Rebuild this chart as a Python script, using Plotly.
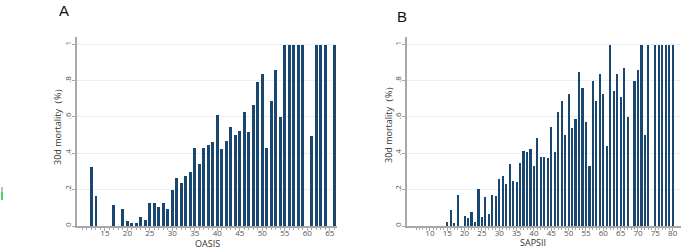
import plotly.graph_objects as go

# Panel A: OASIS score vs 30d mortality
oasis_x = [12, 13, 17, 19, 20, 21, 22, 23, 24, 25, 26, 27, 28, 29, 30, 31, 32, 33, 34, 35,
           36, 37, 38, 39, 40, 41, 42, 43, 44, 45, 46, 47, 48, 49, 50, 51, 52, 53, 54, 55,
           56, 57, 58, 59, 61, 62, 63, 64, 66]
oasis_y = [0.33, 0.167, 0.12, 0.094, 0.033, 0.02, 0.02, 0.055, 0.035, 0.13, 0.127, 0.108, 0.128, 0.094,
           0.2, 0.266, 0.239, 0.277, 0.298, 0.43, 0.344, 0.434, 0.45, 0.463, 0.614, 0.427, 0.469,
           0.545, 0.501, 0.527, 0.629, 0.52, 0.667, 0.793, 0.838, 0.43, 0.689, 0.86, 0.6, 1, 1, 1, 1, 1,
           0.5, 1, 1, 1, 1]

# Panel B: SAPSII score vs 30d mortality
saps_x = [15, 16, 17, 18, 20, 21, 22, 23, 24, 25, 26, 27, 28, 29, 30, 31, 32, 33, 34, 35,
          36, 37, 38, 39, 40, 41, 42, 43, 44, 45, 46, 47, 48, 49, 50, 51, 52, 53, 54, 55,
          56, 57, 58, 59, 60, 61, 62, 63, 64, 65, 66, 67, 69, 70, 71, 72, 73, 75, 76, 77,
          78, 79, 80]
saps_y = [0.024, 0.092, 0.018, 0.175, 0.057, 0.046, 0.081, 0.024, 0.206, 0.05, 0.165, 0.068, 0.176,
          0.169, 0.261, 0.28, 0.233, 0.346, 0.25, 0.246, 0.351, 0.417, 0.408, 0.425, 0.335, 0.487,
          0.38, 0.38, 0.377, 0.55, 0.412, 0.629, 0.689, 0.502, 0.73, 0.54, 0.59, 0.849, 0.763,
          0.574, 0.335, 0.801, 0.693, 0.838, 0.73, 0.445, 1, 0.745, 0.837, 0.715, 0.875, 0.6,
          0.801, 0.859, 1, 0.502, 1, 1, 1, 1, 1, 1, 1]

y_tickvals = [0, 0.2, 0.4, 0.6, 0.8, 1]
y_ticktext = ["0", ".2", ".4", ".6", ".8", "1"]
oasis_ticks = [15, 20, 25, 30, 35, 40, 45, 50, 55, 60, 65]
saps_ticks = [10, 15, 20, 25, 30, 35, 40, 45, 50, 55, 60, 65, 70, 75, 80]

W, H = 685, 249
BAR = "#1a476f"
AX = "#a8a8a8"
TXT = "#555555"


def px(x):
    return x / W


def py(y):
    return (H - y) / H


fig = go.Figure()
fig.add_trace(go.Bar(x=oasis_x, y=oasis_y, width=0.62, marker=dict(color=BAR, line=dict(width=0)),
                     xaxis="x", yaxis="y", showlegend=False))
fig.add_trace(go.Bar(x=saps_x, y=saps_y, width=0.62, marker=dict(color=BAR, line=dict(width=0)),
                     xaxis="x2", yaxis="y2", showlegend=False))

ydom = [py(226), py(36.5)]


def xax(dom, rng, ticks, minor_vals, anchor):
    return dict(domain=dom, range=rng, anchor=anchor, tickvals=ticks, ticktext=[str(t) for t in ticks],
                ticks="outside", ticklen=3, tickcolor=AX, tickwidth=1, ticklabelstandoff=-4,
                showline=True, linecolor=AX, linewidth=1.5, showgrid=False, zeroline=False,
                tickfont=dict(family="Open Sans", size=8, color=TXT),
                minor=dict(tickvals=minor_vals, ticks="outside", ticklen=2.5, tickcolor=AX, showgrid=False))


def yax(anchor):
    return dict(domain=ydom, range=[0, 1.043], anchor=anchor, tickvals=y_tickvals, ticktext=y_ticktext,
                tickangle=-90, ticks="outside", ticklen=3, tickcolor=AX, tickwidth=1, ticklabelstandoff=-2,
                showline=True, linecolor=AX, linewidth=1.5, showgrid=True, gridcolor="#e9eff3",
                gridwidth=1, zeroline=False,
                tickfont=dict(family="Open Sans", size=8, color=TXT))


def ann(text, x, y, size, color="#333333", family="Open Sans", angle=0):
    return dict(text=text, x=px(x), y=py(y), xref="paper", yref="paper", showarrow=False,
                textangle=angle, font=dict(family=family, size=size, color=color),
                xanchor="center", yanchor="middle")


fig.update_layout(
    width=W, height=H,
    margin=dict(l=0, r=0, t=0, b=0),
    paper_bgcolor="white", plot_bgcolor="white",
    bargap=0,
    xaxis=xax([px(77), px(337)], [8.8, 66.6], oasis_ticks, list(range(10, 67)), "y"),
    yaxis=yax("x"),
    xaxis2=xax([px(407), px(681)], [3.4, 82.4], saps_ticks, list(range(6, 81)), "y2"),
    yaxis2=yax("x2"),
    annotations=[
        ann("A", 64, 10, 15, "#111111", "Liberation Sans"),
        ann("B", 402, 17, 15, "#111111", "Liberation Sans"),
        ann("30d mortality（%）", 57, 125, 9, angle=-90),
        ann("30d mortality（%）", 388, 123, 9, angle=-90),
        ann("OASIS", 207, 243, 9),
        ann("SAPSII", 533, 242, 9),
    ],
    shapes=[
        dict(type="rect", xref="paper", yref="paper", x0=px(1), x1=px(3),
             y0=py(192), y1=py(187), fillcolor="#b8c4bc", line=dict(width=0)),
        dict(type="rect", xref="paper", yref="paper", x0=px(1), x1=px(3),
             y0=py(200), y1=py(192), fillcolor="#4cd36a", line=dict(width=0)),
    ],
)

fig.write_html("out.html", config={"displayModeBar": False},
               post_script="document.body.style.margin='0';document.body.style.overflow='hidden';")
